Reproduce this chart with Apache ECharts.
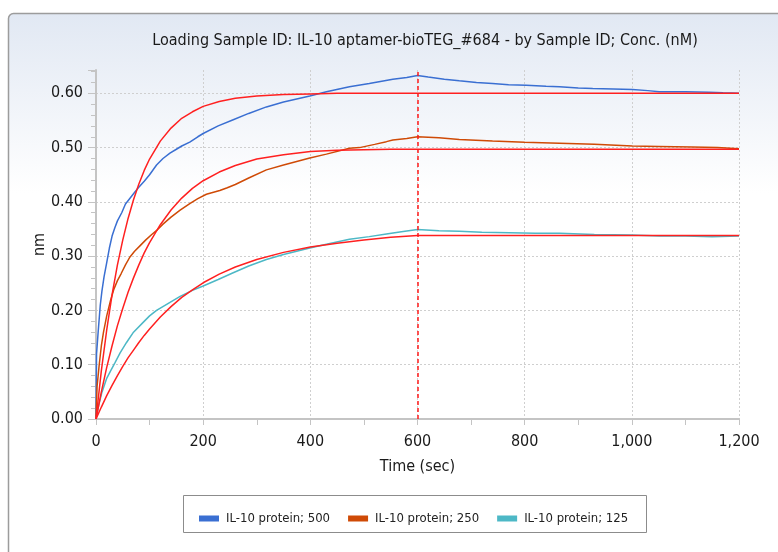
<!DOCTYPE html>
<html>
<head>
<meta charset="utf-8">
<title>Loading Sample ID</title>
<script src="https://cdn.jsdelivr.net/npm/echarts@6.0.0/dist/echarts.min.js"></script>
<style>
    html, body { margin: 0; padding: 0; background: #fff; }
    #chart { width: 778px; height: 552px; }
</style>
</head>
<body>
<div id="chart"></div>
<script>
// measured traces, [time (sec), response (nm)]
const protein500 = [[0,0],[1,0.12],[4,0.16],[8,0.21],[11,0.235],[15,0.262],[20,0.288],[25,0.315],[30,0.337],[35,0.352],[40,0.365],[48,0.38],[55,0.396],[62,0.405],[70,0.415],[79,0.426],[90,0.438],[100,0.45],[113,0.468],[125,0.48],[138,0.49],[150,0.497],[160,0.503],[175,0.51],[190,0.52],[200,0.526],[228,0.54],[255,0.551],[285,0.563],[318,0.575],[350,0.584],[399,0.595],[430,0.603],[473,0.612],[510,0.618],[554,0.626],[580,0.629],[600,0.633],[620,0.63],[650,0.626],[678,0.623],[710,0.62],[740,0.618],[770,0.616],[803,0.615],[840,0.613],[865,0.612],[900,0.61],[927,0.609],[965,0.608],[1001,0.607],[1030,0.605],[1051,0.603],[1100,0.603],[1144,0.602],[1170,0.601],[1200,0.6]];
const protein250 = [[0,0],[2,0.06],[6,0.1],[10,0.135],[14,0.16],[20,0.19],[27,0.218],[33,0.238],[40,0.255],[47,0.268],[55,0.284],[63,0.298],[72,0.309],[82,0.319],[93,0.33],[104,0.34],[115,0.349],[125,0.359],[140,0.372],[157,0.385],[175,0.397],[190,0.406],[206,0.414],[231,0.421],[245,0.426],[260,0.432],[285,0.444],[318,0.459],[350,0.468],[399,0.481],[430,0.488],[473,0.499],[492,0.5],[520,0.506],[542,0.511],[554,0.514],[580,0.517],[600,0.52],[640,0.518],[678,0.515],[740,0.512],[800,0.51],[865,0.508],[930,0.506],[1001,0.503],[1050,0.502],[1112,0.501],[1160,0.5],[1200,0.498]];
const protein125 = [[0,0],[5,0.025],[11,0.049],[20,0.075],[28,0.09],[35,0.103],[45,0.122],[57,0.141],[70,0.16],[88,0.178],[100,0.19],[113,0.2],[135,0.213],[157,0.226],[180,0.237],[200,0.245],[228,0.257],[255,0.269],[285,0.282],[318,0.294],[350,0.303],[399,0.315],[430,0.322],[473,0.331],[510,0.336],[542,0.341],[570,0.345],[600,0.349],[640,0.347],[678,0.346],[720,0.344],[772,0.343],[820,0.342],[865,0.342],[930,0.34],[1000,0.339],[1051,0.337],[1100,0.337],[1150,0.336],[1200,0.337]];

// fitted curves (red)
const fitTimes = [0,10,20,30,40,50,60,70,80,90,100,120,140,160,180,200,230,260,300,350,400,450,500,550,600,1200];
const fit500 = [0,0.089,0.164,0.229,0.284,0.33,0.37,0.404,0.433,0.458,0.479,0.512,0.536,0.554,0.566,0.576,0.585,0.591,0.595,0.598,0.599,0.6,0.6,0.6,0.6,0.6];
const fit250 = [0,0.05,0.095,0.135,0.172,0.204,0.234,0.26,0.284,0.306,0.325,0.358,0.385,0.407,0.425,0.439,0.455,0.467,0.479,0.487,0.493,0.495,0.496,0.497,0.497,0.497];
const fit125 = [0,0.022,0.043,0.062,0.08,0.097,0.113,0.127,0.141,0.154,0.166,0.188,0.207,0.224,0.238,0.251,0.267,0.28,0.294,0.307,0.317,0.324,0.33,0.335,0.338,0.338];

const seriesNames = ['IL-10 protein; 500', 'IL-10 protein; 250', 'IL-10 protein; 125'];
const seriesColors = ['#3a6fd2', '#cf4a06', '#4db8c6'];
const stepPoint = 600;

const font = '"Liberation Sans Narrow", "DejaVu Sans Condensed", "Liberation Sans", sans-serif';
const chart = echarts.init(document.getElementById('chart'));

function fitSeries(values, withMark) {
    const s = {
        type: 'line',
        data: fitTimes.map((t, i) => [t, values[i]]),
        showSymbol: false,
        silent: true,
        lineStyle: {color: '#ff2020', width: 1.5},
        z: 3,
    };
    if (withMark) {
        s.markLine = {
            silent: true,
            symbol: 'none',
            label: {show: false},
            lineStyle: {color: '#ff1a1a', type: [4, 3], width: 1.5},
            data: [{xAxis: stepPoint}],
        };
    }
    return s;
}

const option = {
    animation: false,
    textStyle: {fontFamily: font},
    graphic: [
        {
            type: 'rect', z: -10, silent: true,
            shape: {x: 8.5, y: 13.5, width: 800, height: 600, r: 5},
            style: {
                fill: new echarts.graphic.LinearGradient(0, 0, 0, 1, [
                    {offset: 0, color: '#e1e8f3'},
                    {offset: 0.3, color: '#ffffff'},
                    {offset: 1, color: '#ffffff'},
                ]),
                stroke: '#9c9c9c', lineWidth: 1.5,
            },
        },
        {
            type: 'rect', z: -5, silent: true,
            shape: {x: 183.5, y: 495.5, width: 463, height: 37},
            style: {fill: '#ffffff', stroke: '#8c8c8c', lineWidth: 1},
        },
    ],
    title: {
        text: 'Loading Sample ID: IL-10 aptamer-bioTEG_#684 - by Sample ID; Conc. (nM)',
        left: 420, top: 28, textAlign: 'center',
        textStyle: {fontFamily: font, fontSize: 16, fontWeight: 'normal', color: '#1a1a1a'},
    },
    legend: {
        data: seriesNames,
        left: 194, top: 507,
        icon: 'rect', itemWidth: 20, itemHeight: 6, itemGap: 18,
        textStyle: {fontFamily: font, fontSize: 13, color: '#222', padding: [0, 0, 0, 2]},
    },
    grid: {left: 96, right: 39, top: 70, bottom: 133},
    xAxis: {
        type: 'value', min: 0, max: 1200, interval: 200,
        name: 'Time (sec)', nameLocation: 'middle', nameGap: 40,
        nameTextStyle: {fontFamily: font, fontSize: 16, color: '#1a1a1a'},
        axisLine: {show: true, lineStyle: {color: '#c4c4c4', width: 2}},
        axisTick: {show: true, length: 6, lineStyle: {color: '#c4c4c4'}},
        minorTick: {show: true, splitNumber: 2, length: 6, lineStyle: {color: '#c4c4c4'}},
        axisLabel: {
            margin: 15, fontFamily: font, fontSize: 16, color: '#1a1a1a',
            formatter: (v) => v.toLocaleString('en-US'),
        },
        splitLine: {show: true, lineStyle: {color: '#cfcfcf', type: [2, 2]}},
    },
    yAxis: {
        type: 'value', min: 0, max: 0.643, interval: 0.1,
        name: 'nm', nameLocation: 'middle', nameGap: 48, nameRotate: 90, nameMoveOverlap: false,
        nameTextStyle: {fontFamily: font, fontSize: 16, color: '#1a1a1a'},
        axisLine: {show: true, lineStyle: {color: '#c4c4c4', width: 2}},
        axisTick: {show: true, length: 8, lineStyle: {color: '#c4c4c4'}},
        minorTick: {show: true, splitNumber: 5, length: 5, lineStyle: {color: '#c4c4c4'}},
        axisLabel: {
            margin: 13, fontFamily: font, fontSize: 16, color: '#1a1a1a', showMaxLabel: false,
            formatter: (v) => v.toFixed(2),
        },
        splitLine: {
            show: true,
            lineStyle: {
                color: ['#cfcfcf', '#cfcfcf', '#cfcfcf', '#cfcfcf', '#cfcfcf', '#cfcfcf', '#cfcfcf', 'rgba(0,0,0,0)'],
                type: [2, 2],
            },
        },
    },
    series: [
        {name: seriesNames[0], type: 'line', data: protein500, showSymbol: false, lineStyle: {color: seriesColors[0], width: 1.5}, itemStyle: {color: seriesColors[0]}, z: 2},
        {name: seriesNames[1], type: 'line', data: protein250, showSymbol: false, lineStyle: {color: seriesColors[1], width: 1.5}, itemStyle: {color: seriesColors[1]}, z: 2},
        {name: seriesNames[2], type: 'line', data: protein125, showSymbol: false, lineStyle: {color: seriesColors[2], width: 1.5}, itemStyle: {color: seriesColors[2]}, z: 2},
        fitSeries(fit500, true),
        fitSeries(fit250, false),
        fitSeries(fit125, false),
    ],
};

chart.setOption(option);
</script>
</body>
</html>
